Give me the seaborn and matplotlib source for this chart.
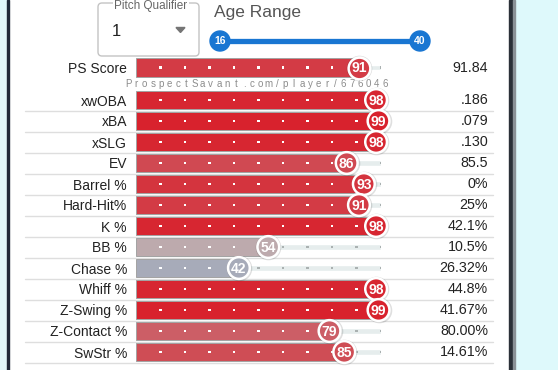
import numpy as np
import matplotlib
matplotlib.use("Agg")
import matplotlib.pyplot as plt
import matplotlib.transforms as mtransforms
from matplotlib.colors import LinearSegmentedColormap
from matplotlib.patches import FancyBboxPatch, Rectangle, Circle, Polygon
import seaborn as sns

# data
metrics = ['xwOBA', 'xBA', 'xSLG', 'EV', 'Barrel %', 'Hard-Hit%', 'K %',
           'BB %', 'Chase %', 'Whiff %', 'Z-Swing %', 'Z-Contact %', 'SwStr %']
percentiles = [98, 99, 98, 86, 93, 91, 98, 54, 42, 98, 99, 79, 85]
stat_values = ['.186', '.079', '.130', '85.5', '0%', '25%', '42.1%',
               '10.5%', '26.32%', '44.8%', '41.67%', '80.00%', '14.61%']
ps_label = 'PS Score'
ps_percentile = 91
ps_value = '91.84'
age_range = [16, 40]
pitch_qualifier = '1'
watermark = 'ProspectSavant.com/player/676046'

W, H = 558, 370
sns.set_style('white')
plt.rcParams['font.family'] = ['Liberation Sans', 'DejaVu Sans']

cmap = LinearSegmentedColormap.from_list(
    'savant', [(0, '#3f74bb'), (0.5, '#bbb6b9'), (1, '#d8202b')])


def rect(x0, y0, x1, y1):
    return [x0 / W, 1 - y1 / H, (x1 - x0) / W, (y1 - y0) / H]


fig = plt.figure(figsize=(W / 100, H / 100), dpi=100)

# page background / widgets in pixel coordinates
bg = fig.add_axes([0, 0, 1, 1], zorder=-1)
bg.set_xlim(0, W)
bg.set_ylim(H, 0)
bg.axis('off')
bg.add_patch(Rectangle((0, 0), 7, H, color='#e0f9fb'))
bg.add_patch(Rectangle((7, 0), 2, H, color='#1f2b39'))
bg.add_patch(Rectangle((515, 0), W - 515, H, color='#def9fb'))
bg.add_patch(Rectangle((509, 0), 4, H, color='#2b3138'))
bg.add_patch(Rectangle((513, 0), 2, H, color='#8a9196'))

# pitch qualifier select box
bg.add_patch(FancyBboxPatch((98, 3), 101, 53, boxstyle='round,pad=0,rounding_size=4',
                            fc='white', ec='#c4c4c4', lw=1))
bg.text(151, 6, 'Pitch Qualifier', ha='center', va='center', fontsize=8.5,
        color='#666666', bbox=dict(fc='white', ec='none', pad=1))
bg.text(112, 31, pitch_qualifier, ha='left', va='center', fontsize=12, color='#222222')
bg.add_patch(Polygon([(176, 27.5), (185, 27.5), (180.5, 32.5)], color='#757575'))

# age range slider
bg.text(214, 13, 'Age Range', ha='left', va='center', fontsize=12.5, color='#555555')
bg.plot([220, 420], [41, 41], color='#1976d2', lw=3.8, solid_capstyle='butt')
for x, a in zip([220, 420], age_range):
    bg.add_patch(Circle((x, 41), 10, color='#1976d2'))
    bg.text(x, 41.5, str(a), ha='center', va='center', fontsize=7.5,
            fontweight='bold', color='white')


def draw_rows(ax, labels, pcts, values):
    n = len(labels)
    rows = np.arange(n)
    colors = [cmap(p / 100) for p in pcts]
    # background track
    ax.barh(rows, [100] * n, height=0.24, color='#e6eded', zorder=1)
    sns.barplot(x=pcts, y=labels, hue=labels, palette=colors, orient='h',
                width=0.9, saturation=1, legend=False, ax=ax,
                edgecolor='#a3a3a3', linewidth=0.7)
    for p in ax.patches[n:]:
        p.set_zorder(2)
    # tick dots
    grid = np.arange(10, 101, 10)
    for r, p in zip(rows, pcts):
        ax.scatter(grid, [r] * len(grid), marker='s', s=2.2, linewidths=0,
                   c=['white' if g < p else '#aab1b1' for g in grid], zorder=3)
    # percentile circles
    ax.scatter(pcts, rows, s=340, color='#00000020', linewidths=0,
               zorder=4, clip_on=False)
    ax.scatter(pcts, rows, s=245, c=colors, edgecolors='white', linewidths=1.8,
               zorder=5, clip_on=False)
    for r, p in zip(rows, pcts):
        ax.text(p, r + 0.03, str(p), ha='center', va='center', fontsize=10,
                fontweight='bold', color='white', zorder=6)
    tr = mtransforms.blended_transform_factory(bg.transData, ax.transData)
    for r, v in zip(rows, values):
        ax.text(488, r, v, transform=tr, ha='right', va='center',
                fontsize=10.3, color='#222222')
    ax.set_xlim(0, 100)
    ax.set_ylim(n - 0.5, -0.5)
    ax.set_xlabel('')
    ax.set_ylabel('')
    ax.set_xticks([])
    ax.tick_params(axis='y', length=0, pad=6.5, labelsize=10, labelcolor='#222222')
    sns.despine(ax=ax, left=True, bottom=True)
    ax.patch.set_alpha(0)
    return tr


ax_ps = fig.add_axes(rect(136, 57, 381, 78))
draw_rows(ax_ps, [ps_label], [ps_percentile], [ps_value])

ax = fig.add_axes(rect(136, 89.5, 381, 362.5))
tr = draw_rows(ax, metrics, percentiles, stat_values)

# row separators
for r in range(len(metrics)):
    ax.plot([25, 493], [r + 0.5, r + 0.5], transform=tr, color='#dedede',
            lw=1, zorder=0, clip_on=False)

# watermark
xs = np.linspace(128, 385, len(watermark))
for x, ch in zip(xs, watermark):
    bg.text(x, 84, ch, ha='center', va='center', fontsize=7, color='#8c8c8c')

fig.savefig('out.png', dpi=100)
